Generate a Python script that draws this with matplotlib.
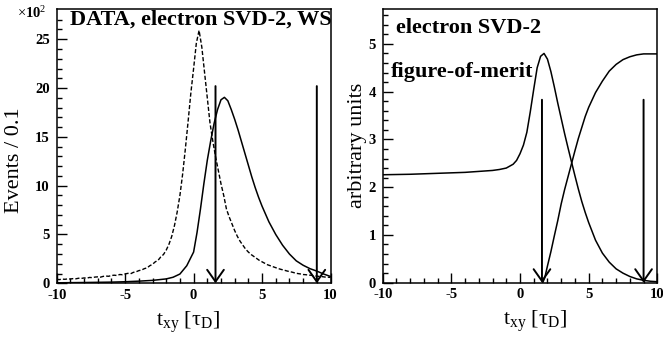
import numpy as np
import matplotlib
matplotlib.use("Agg")
import matplotlib.pyplot as plt

plt.rcParams['font.family'] = 'serif'
plt.rcParams['font.serif'] = ['Liberation Serif', 'DejaVu Serif']
plt.rcParams['mathtext.fontset'] = 'custom'
plt.rcParams['mathtext.rm'] = 'Liberation Serif'
plt.rcParams['mathtext.it'] = 'Liberation Serif:italic'
plt.rcParams['mathtext.bf'] = 'Liberation Serif:bold'
plt.rcParams['axes.unicode_minus'] = False

# left panel: data histogram (x100 events per 0.1), bin centres every 0.2
data_x = np.round(np.arange(-10, 10.01, 0.2), 2)
data_y = [0.40, 0.38, 0.43, 0.41, 0.45, 0.44, 0.48, 0.46, 0.52, 0.50,
          0.55, 0.53, 0.60, 0.58, 0.64, 0.66, 0.63, 0.71, 0.74, 0.72,
          0.80, 0.83, 0.80, 0.90, 0.88, 0.96, 1.02, 0.98, 1.12, 1.18,
          1.30, 1.36, 1.50, 1.58, 1.80, 1.95, 2.20, 2.35, 2.70, 2.95,
          3.40, 4.00, 4.80, 5.90, 7.30, 9.00, 11.2, 13.8, 16.6, 19.5,
          22.0, 24.6, 25.9, 24.2, 21.6, 19.0, 16.4, 14.6, 13.0, 11.6,
          10.2, 9.00, 7.60, 6.80, 6.10, 5.40, 4.80, 4.30, 3.90, 3.50,
          3.20, 2.95, 2.75, 2.55, 2.35, 2.20, 2.05, 1.90, 1.80, 1.70,
          1.60, 1.50, 1.42, 1.35, 1.27, 1.20, 1.14, 1.06, 1.00, 0.96,
          0.90, 0.88, 0.84, 0.82, 0.76, 0.74, 0.70, 0.68, 0.64, 0.63,
          0.60]

# left panel: signal MC shape
sig_x = [-10, -8, -6, -5, -4, -3, -2, -1.5, -1, -0.5, 0, 0.25, 0.5, 0.75,
         1.0, 1.25, 1.5, 1.75, 2.0, 2.25, 2.5, 2.75, 3.0, 3.25, 3.5, 3.75,
         4.0, 4.25, 4.5, 4.75, 5.0, 5.5, 6.0, 6.5, 7.0, 7.5, 8.0, 8.5, 9.0,
         9.5, 10]
sig_y = [0.05, 0.08, 0.12, 0.16, 0.22, 0.30, 0.45, 0.62, 0.95, 1.8, 3.2,
         5.2, 7.6, 10.2, 12.6, 14.6, 16.4, 17.8, 18.8, 19.05, 18.7, 17.8,
         16.8, 15.7, 14.5, 13.3, 12.1, 10.9, 9.8, 8.8, 7.9, 6.3, 5.0, 3.9,
         3.0, 2.3, 1.85, 1.5, 1.25, 0.95, 0.7]

# right panel: figure-of-merit and second curve
fom_x = [-10, -8, -6, -4, -3, -2, -1.5, -1, -0.5, -0.25, 0, 0.25, 0.5, 0.75,
         1.0, 1.25, 1.5, 1.75, 2.0, 2.25, 2.5, 2.75, 3.0, 3.25, 3.5, 3.75,
         4.0, 4.25, 4.5, 4.75, 5.0, 5.5, 6.0, 6.5, 7.0, 7.5, 8.0, 8.5, 9.0,
         9.5, 10]
fom_y = [2.26, 2.27, 2.29, 2.31, 2.33, 2.35, 2.37, 2.40, 2.48, 2.56, 2.70,
         2.88, 3.15, 3.58, 4.05, 4.50, 4.74, 4.80, 4.68, 4.42, 4.10, 3.76,
         3.44, 3.12, 2.82, 2.53, 2.24, 1.96, 1.70, 1.47, 1.26, 0.89, 0.62,
         0.43, 0.29, 0.20, 0.13, 0.08, 0.05, 0.03, 0.02]

eff_x = [1.65, 1.8, 2.0, 2.25, 2.5, 2.75, 3.0, 3.25, 3.5, 3.75, 4.0, 4.25,
         4.5, 4.75, 5.0, 5.5, 6.0, 6.5, 7.0, 7.5, 8.0, 8.5, 9.0, 10]
eff_y = [0.0, 0.10, 0.35, 0.65, 0.98, 1.30, 1.65, 1.95, 2.22, 2.49, 2.76,
         3.02, 3.25, 3.48, 3.67, 3.98, 4.22, 4.43, 4.57, 4.67, 4.73, 4.77,
         4.79, 4.79]

cuts = [1.6, 9.0]
arrow_top_left = 20.2
arrow_top_right = 3.83

fig = plt.figure(figsize=(6.63, 3.41), dpi=100)
axL = fig.add_axes([56.7/663, 57.7/341, 273.8/663, 274.3/341])
axR = fig.add_axes([382.7/663, 58.3/341, 274.6/663, 273.7/341])

axL.plot(data_x, data_y, color='k', lw=1.0, dashes=(3, 1.5))
axL.plot(sig_x, sig_y, color='k', lw=1.1)
axR.plot(fom_x, fom_y, color='k', lw=1.1)
axR.plot(eff_x, eff_y, color='k', lw=1.1)

for ax, top in [(axL, arrow_top_left), (axR, arrow_top_right)]:
    for c in cuts:
        ax.annotate('', xy=(c, 0), xytext=(c, top),
                    arrowprops=dict(arrowstyle='->,head_length=0.85,head_width=0.6',
                                    lw=1.4, color='k', shrinkA=0, shrinkB=0))

axL.set_xlim(-10, 10)
axL.set_ylim(0, 28.1)
axR.set_xlim(-10, 10)
axR.set_ylim(0, 5.73)
axL.set_yticks([0, 5, 10, 15, 20, 25])
axL.set_yticks(np.arange(0, 28, 1), minor=True)
axR.set_yticks([0, 1, 2, 3, 4, 5])
axR.set_yticks(np.arange(0, 5.7, 0.2), minor=True)
for ax in (axL, axR):
    ax.set_xticks([-10, -5, 0, 5, 10])
    ax.set_xticks(np.arange(-10, 11, 1), minor=True)
    ax.tick_params(which='both', direction='in', top=False, right=False,
                   width=1.0)
    ax.tick_params(which='major', length=7, pad=4, labelsize=10.5)
    ax.tick_params(axis='y', which='major', pad=5)
    ax.tick_params(which='minor', length=3.5)
    for lab in ax.get_xticklabels() + ax.get_yticklabels():
        lab.set_fontweight('bold')
    for sp in ax.spines.values():
        sp.set_linewidth(1.1)
    ax.set_xlabel(r'$\mathrm{t_{xy}\ [\tau_{D}]}$', fontsize=16)

axL.xaxis.set_label_coords(0.48, -0.095)
axR.xaxis.set_label_coords(0.555, -0.095)
axL.set_ylabel('Events / 0.1', fontsize=16)
axL.yaxis.set_label_coords(-0.12, 0.45)
axR.set_ylabel('arbitrary units', fontsize=16)
axR.yaxis.set_label_coords(-0.058, 0.5)

fig.text(17/663, 1 - 13/341, r'$\times$10$^2$', fontsize=10.5, fontweight='bold',
         va='center', ha='left')
axL.text(0.05, 0.96, 'DATA, electron SVD-2, WS', transform=axL.transAxes,
         fontsize=16, fontweight='bold', va='center', ha='left')
axR.text(0.05, 0.93, 'electron SVD-2', transform=axR.transAxes,
         fontsize=16, fontweight='bold', va='center', ha='left')
axR.text(0.03, 0.77, 'figure-of-merit', transform=axR.transAxes,
         fontsize=16, fontweight='bold', va='center', ha='left')

fig.savefig('out.png', dpi=100)
